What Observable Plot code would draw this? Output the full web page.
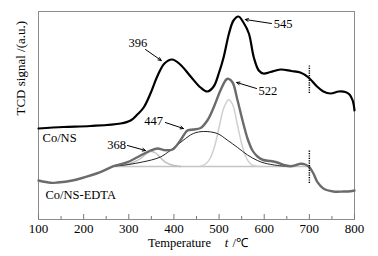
<!DOCTYPE html>
<html><head><meta charset="utf-8">
<script src="https://cdn.jsdelivr.net/npm/d3@7"></script>
<script src="https://cdn.jsdelivr.net/npm/@observablehq/plot@0.6"></script>
<style>body{margin:0;background:#fff} svg{display:block}</style>
</head><body><div id="chart"></div>
<script>
// x tick labels
const xTicks = [100,200,300,400,500,600,700,800];
const xMinor = [150,250,350,450,550,650,750];

// Co/NS (black thick)
const coNS_T = [100,155,215,282,304,319,333,348,364,379,396,414,437,459,474,488,500,510,522,532,543,554,566,577,588,598,614,636,660,680,698,717,731,747,765,780,789,796,800];
const coNS_S = [91,92.5,93.5,96,99,105,112,126,144,156,160,155,143,132,128,133,147,162,186,199,203,197,186,162,149,146,147.5,150,148.5,147,142,133,128,126,128,127.5,125,119,109];

// Co/NS-EDTA (gray thick)
const edta_T = [100,127,142,175,193,237,266,297,326,348,364,377,397,414,430,443,459,474,488,503,516,521,530,541,552,563,574,585,598,614,629,643,658,674,680,691,700,709,718,731,753,776,791,800];
const edta_S = [39,36.7,37,39,41,47.3,53.3,57.3,64,69,71,69.5,70,79,89,90,91.5,99,112,129,140,140.7,137,119,99,81,69,63,59.5,58.5,57,54.5,53.3,55,55.7,55,52.3,46,37.3,31,28,28,28.3,29];

// fitted components of Co/NS-EDTA
const base_T = [266,700];
const base_S = [53,53];
const c368_T = [266,290,310,326,340,348,358,370,381,395,415];
const c368_S = [53,54.5,57,61,66,68,67,62,57.3,54.5,53];
const c447_T = [266,300,330,350,370,392,420,443,466,496,518,541,563,585,600,630,660];
const c447_S = [53.3,55,57.5,59.5,62.5,69,79,86,88,86,79.5,72,64.5,59,56.5,54,53];
const c522_T = [460,470,480,490,500,510,521,530,540,550,560,570,580,590];
const c522_S = [53.5,55.5,61,73,92,111,119.7,115,96,76,62,55.5,53.5,53];

// 700 °C markers
const markT = [700, 700];
const markLo = [126, 36];
const markHi = [154, 69];

// peak annotations
const peakLabels = ["396","447","368","545","522"];
const labelX = [320,355,273,642,608];
const labelY = [177,99,75,196,129];
const arrowX1 = [337,381,297,616,583];
const arrowY1 = [170,97,74,196,131];
const arrowX2 = [372,421,337,558,539];
const arrowY2 = [159,91,69,200,137];

const seriesNames = ["Co/NS","Co/NS-EDTA"];
const seriesX = [109,115.5];
const seriesY = [82,25];

const zip = (T,S) => T.map((t,i)=>({t, s:S[i]}));
const font = "'Liberation Serif','Times New Roman',serif";
const line = (T,S,o) => Plot.line(zip(T,S), {x:"t", y:"s", curve:"catmull-rom", ...o});

const labels = peakLabels.map((l,i)=>({l, x:labelX[i], y:labelY[i]}));
const arrows = peakLabels.map((l,i)=>({x1:arrowX1[i], y1:arrowY1[i], x2:arrowX2[i], y2:arrowY2[i]}));
const marks700 = markT.map((t,i)=>({t, lo:markLo[i], hi:markHi[i]}));
const names = seriesNames.map((n,i)=>({n, x:seriesX[i], y:seriesY[i]}));

const chart = Plot.plot({
  width:378, height:256, marginLeft:38, marginRight:24, marginTop:11, marginBottom:37,
  style:{fontFamily:font, fontSize:"13px", background:"#fff", color:"#000"},
  x:{domain:[100,800], label:null},
  y:{domain:[0,208], axis:null},
  marks:[
    Plot.frame({stroke:"#8c8c8c"}),
    Plot.axisX({ticks:xTicks, tickSize:0, tickPadding:4, fontSize:13, tickFormat:d=>String(d), label:null}),
    Plot.tickX(xTicks, {x:d=>d, insetTop:203, stroke:"#777"}),
    Plot.tickX(xMinor, {x:d=>d, insetTop:205, stroke:"#777"}),
    line(base_T, base_S, {stroke:"#c4c4c4", strokeWidth:1.3}),
    line(c368_T, c368_S, {stroke:"#bdbdbd", strokeWidth:1.4}),
    line(c522_T, c522_S, {stroke:"#cfcfcf", strokeWidth:1.5}),
    line(c447_T, c447_S, {stroke:"#222", strokeWidth:1}),
    line(edta_T, edta_S, {stroke:"#6b6b6b", strokeWidth:2.4}),
    line(coNS_T, coNS_S, {stroke:"#000", strokeWidth:2.2}),
    Plot.ruleX(marks700, {x:"t", y1:"lo", y2:"hi", stroke:"#000", strokeWidth:1.5, strokeDasharray:"1.2,1.2"}),
    Plot.arrow(arrows, {x1:"x1", y1:"y1", x2:"x2", y2:"y2", stroke:"#000", strokeWidth:1, headLength:5, headAngle:50}),
    Plot.text(labels, {x:"x", y:"y", text:"l", fontSize:12.5}),
    Plot.text(names, {x:"x", y:"y", text:"n", textAnchor:"start", fontSize:12.5}),
    Plot.text(["TCD signal /(a.u.)"], {frameAnchor:"left", rotate:-90, dx:-18, fontSize:13}),
    Plot.text(["Temperature"], {frameAnchor:"bottom", dy:27, dx:-17, fontSize:12.5}),
    Plot.text(["t"], {frameAnchor:"bottom", dy:27, dx:30, fontSize:12.5, fontStyle:"italic"}),
    Plot.text(["/℃"], {frameAnchor:"bottom", dy:27, dx:36, textAnchor:"start", fontSize:12.5})
  ]
});
document.getElementById("chart").appendChild(chart);
</script>
</body></html>
